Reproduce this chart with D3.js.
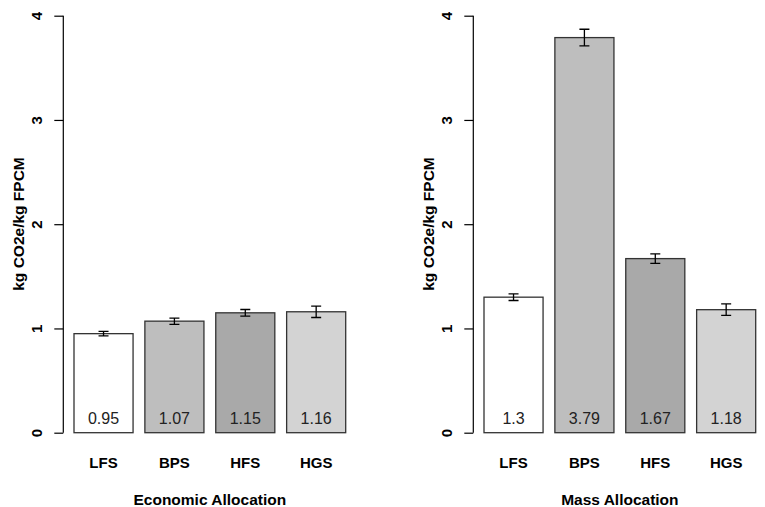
<!DOCTYPE html>
<html>
<head>
<meta charset="utf-8">
<script src="https://cdn.jsdelivr.net/npm/d3@7"></script>
<style>
  body { margin: 0; background: #fff; }
  text { font-family: "Liberation Sans", Arial, sans-serif; }
</style>
</head>
<body>
<div id="chart"></div>
<script>
// data
const systems = ['LFS', 'BPS', 'HFS', 'HGS'];
const barColors = ['#ffffff', '#bebebe', '#a9a9a9', '#d3d3d3'];
const economicValues = [0.95, 1.07, 1.15, 1.16];
const economicErrors = [0.022, 0.03, 0.032, 0.055];
const massValues = [1.3, 3.79, 1.67, 1.18];
const massErrors = [0.032, 0.08, 0.045, 0.055];
const yTicks = [0, 1, 2, 3, 4];

const width = 765;
const height = 507;

const svg = d3.select('#chart')
    .append('svg')
    .attr('width', width)
    .attr('height', height);

const y = d3.scaleLinear()
    .domain([0, 4])
    .range([432.7, 15.7]);

function renderPanel(axisX, barsRange, values, errors, title) {
    const g = svg.append('g');

    const x = d3.scaleBand()
        .domain(systems)
        .range(barsRange)
        .paddingInner(0.2 / 1.2)
        .paddingOuter(0);

    // y axis, R style (line only spans the ticks)
    const axis = d3.axisLeft(y)
        .tickValues(yTicks)
        .tickSize(9)
        .tickSizeOuter(0)
        .tickFormat(d3.format('d'));
    const ax = g.append('g')
        .attr('transform', `translate(${axisX},0)`)
        .call(axis);
    ax.select('.domain')
        .attr('d', `M0,${y(0)}V${y(4)}`)
        .attr('stroke', '#000')
        .attr('stroke-width', 1.2);
    ax.selectAll('.tick line')
        .attr('stroke', '#000')
        .attr('stroke-width', 1.2);
    ax.selectAll('.tick text')
        .attr('x', 0)
        .attr('y', 0)
        .attr('dy', null)
        .attr('transform', 'translate(-27,0) rotate(-90)')
        .attr('text-anchor', 'middle')
        .attr('dominant-baseline', 'central')
        .style('font-family', '"Liberation Sans", Arial, sans-serif')
        .style('font-size', '15px')
        .style('font-weight', 'bold')
        .attr('fill', '#000');

    // bars
    g.selectAll('rect.bar')
        .data(values)
        .join('rect')
        .attr('class', 'bar')
        .attr('x', (d, i) => x(systems[i]))
        .attr('y', d => y(d))
        .attr('width', x.bandwidth())
        .attr('height', d => y(0) - y(d))
        .attr('fill', (d, i) => barColors[i])
        .attr('stroke', '#333')
        .attr('stroke-width', 1.3);

    // error bars
    const cap = 5;
    values.forEach((v, i) => {
        const cx = x(systems[i]) + x.bandwidth() / 2;
        const lo = y(v - errors[i]);
        const hi = y(v + errors[i]);
        g.append('path')
            .attr('d', `M${cx},${lo}V${hi}M${cx - cap},${hi}H${cx + cap}M${cx - cap},${lo}H${cx + cap}`)
            .attr('fill', 'none')
            .attr('stroke', '#000')
            .attr('stroke-width', 1.3);
    });

    // value labels inside bars
    g.selectAll('text.val')
        .data(values)
        .join('text')
        .attr('class', 'val')
        .attr('x', (d, i) => x(systems[i]) + x.bandwidth() / 2)
        .attr('y', 418)
        .attr('text-anchor', 'middle')
        .attr('dominant-baseline', 'central')
        .style('font-size', '16px')
        .attr('fill', '#222')
        .text(d => d);

    // category labels
    g.selectAll('text.cat')
        .data(systems)
        .join('text')
        .attr('class', 'cat')
        .attr('x', d => x(d) + x.bandwidth() / 2)
        .attr('y', 462)
        .attr('text-anchor', 'middle')
        .attr('dominant-baseline', 'central')
        .style('font-size', '15px')
        .style('font-weight', 'bold')
        .text(d => d);

    // x title
    g.append('text')
        .attr('x', (barsRange[0] + barsRange[1]) / 2)
        .attr('y', 499)
        .attr('text-anchor', 'middle')
        .attr('dominant-baseline', 'central')
        .style('font-size', '15.5px')
        .style('font-weight', 'bold')
        .text(title);

    // y title
    g.append('text')
        .attr('transform', `translate(${axisX - 45},224) rotate(-90)`)
        .attr('text-anchor', 'middle')
        .attr('dominant-baseline', 'central')
        .style('font-size', '15.5px')
        .style('font-weight', 'bold')
        .text('kg CO2e/kg FPCM');
}

renderPanel(63.3, [74, 345.7], economicValues, economicErrors, 'Economic Allocation');
renderPanel(473.3, [484, 755.7], massValues, massErrors, 'Mass Allocation');
</script>
</body>
</html>
